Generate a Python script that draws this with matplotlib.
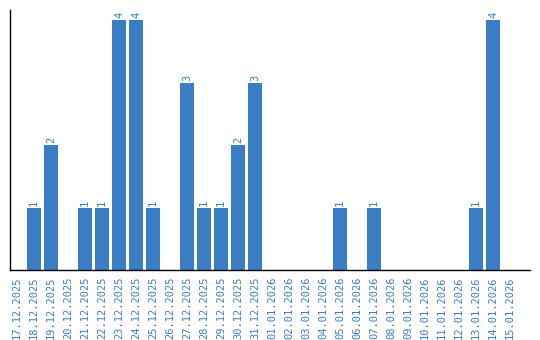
import matplotlib
matplotlib.use("Agg")
import matplotlib.pyplot as plt

dates = ["17.12.2025", "18.12.2025", "19.12.2025", "20.12.2025", "21.12.2025",
         "22.12.2025", "23.12.2025", "24.12.2025", "25.12.2025", "26.12.2025",
         "27.12.2025", "28.12.2025", "29.12.2025", "30.12.2025", "31.12.2025",
         "01.01.2026", "02.01.2026", "03.01.2026", "04.01.2026", "05.01.2026",
         "06.01.2026", "07.01.2026", "08.01.2026", "09.01.2026", "10.01.2026",
         "11.01.2026", "12.01.2026", "13.01.2026", "14.01.2026", "15.01.2026"]
counts = [0, 1, 2, 0, 1, 1, 4, 4, 1, 0, 3, 1, 1, 2, 3,
          0, 0, 0, 0, 1, 0, 1, 0, 0, 0, 0, 0, 1, 4, 0]

blue = "#3b7dc2"
fig = plt.figure(figsize=(5.4, 3.4), dpi=100)
ax = fig.add_axes([10/540, 70/340, 520/540, 260/340])
x = list(range(len(dates)))
bars = ax.bar(x, counts, width=0.82, color=blue)
for xi, v in zip(x, counts):
    if v > 0:
        ax.text(xi, v + 0.03, str(v), rotation=90, ha="center", va="bottom",
                color=blue, fontsize=7.5, family="DejaVu Sans Mono")
ax.set_xlim(-0.41, len(dates) - 1 + 1.18)
ax.set_ylim(0, 4.16)
ax.set_xticks(x)
ax.set_xticklabels(dates, rotation=90, color=blue, fontsize=7.5, family="DejaVu Sans Mono")
ax.tick_params(axis="x", length=0, pad=5)
ax.set_yticks([])
ax.spines["top"].set_visible(False)
ax.spines["right"].set_visible(False)
ax.spines["left"].set_linewidth(1.0)
ax.spines["bottom"].set_linewidth(1.0)
fig.savefig("out.png", dpi=100)
